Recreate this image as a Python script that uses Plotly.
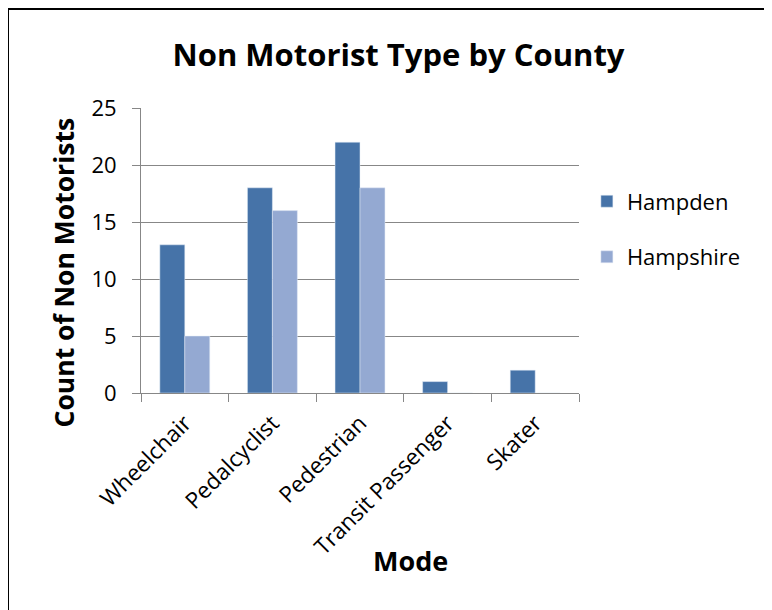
import plotly.graph_objects as go

modes = ["Wheelchair", "Pedalcyclist", "Pedestrian", "Transit Passenger", "Skater"]
hampden = [13, 18, 22, 1, 2]
hampshire = [5, 16, 18, 0, 0]
y_ticks = [0, 5, 10, 15, 20, 25]

FONT = "'Open Sans', sans-serif"
GRID = "#878787"

fig = go.Figure()
fig.add_trace(go.Bar(x=modes, y=hampden, name="Hampden", legendgroup="a",
                     marker_color="#4673A8"))
fig.add_trace(go.Bar(x=modes, y=hampshire, name="Hampshire", legendgroup="b",
                     marker_color="#94A9D2"))

fig.update_layout(
    width=772,
    height=610,
    autosize=False,
    barmode="group",
    bargap=0.43,
    bargroupgap=0,
    plot_bgcolor="white",
    paper_bgcolor="white",
    font=dict(family=FONT, color="black", size=22),
    title=dict(
        text="<b>Non Motorist Type by County</b>",
        x=390.5 / 772, xref="container", xanchor="center",
        y=1 - 47 / 610, yref="container", yanchor="middle",
        font=dict(size=31),
    ),
    # page is offset by the 8px body margin
    margin=dict(l=133, r=201, t=100, b=225),
    legend=dict(
        x=1.018, y=0.574, xanchor="left", yanchor="middle",
        font=dict(size=22),
        tracegroupgap=24,
        itemwidth=30,
    ),
    xaxis=dict(
        showline=True, linecolor=GRID, linewidth=1,
        ticks="outside", tickson="boundaries", ticklen=8, tickcolor=GRID,
        tickangle=-45, tickfont=dict(size=22.5),
        ticklabelstandoff=7,
    ),
    yaxis=dict(
        range=[0, 25], tickvals=y_ticks,
        showline=True, linecolor=GRID, linewidth=1,
        showgrid=True, gridcolor=GRID, gridwidth=1,
        ticks="outside", ticklen=8, tickcolor=GRID,
        ticklabelstandoff=11,
        tickfont=dict(size=22),
        zeroline=False,
    ),
    annotations=[
        dict(text="<b>Mode</b>", xref="paper", yref="paper",
             x=(410 - 141) / 438, y=(393 - 560) / 285,
             xanchor="center", yanchor="middle", showarrow=False,
             font=dict(size=27)),
        dict(text="<b>Count of Non Motorists</b>", xref="paper", yref="paper",
             x=(63 - 141) / 438, y=(393 - 272.5) / 285, textangle=-90,
             xanchor="center", yanchor="middle", showarrow=False,
             font=dict(size=26.5)),
    ],
    shapes=[dict(
        type="rect", xref="paper", yref="paper",
        x0=(8 - 141) / 438, x1=(800 - 141) / 438,
        y0=(393 - 640) / 285, y1=(393 - 9) / 285,
        line=dict(color="black", width=2), fillcolor="rgba(0,0,0,0)",
    )],
)

fig.write_html("out.html")
